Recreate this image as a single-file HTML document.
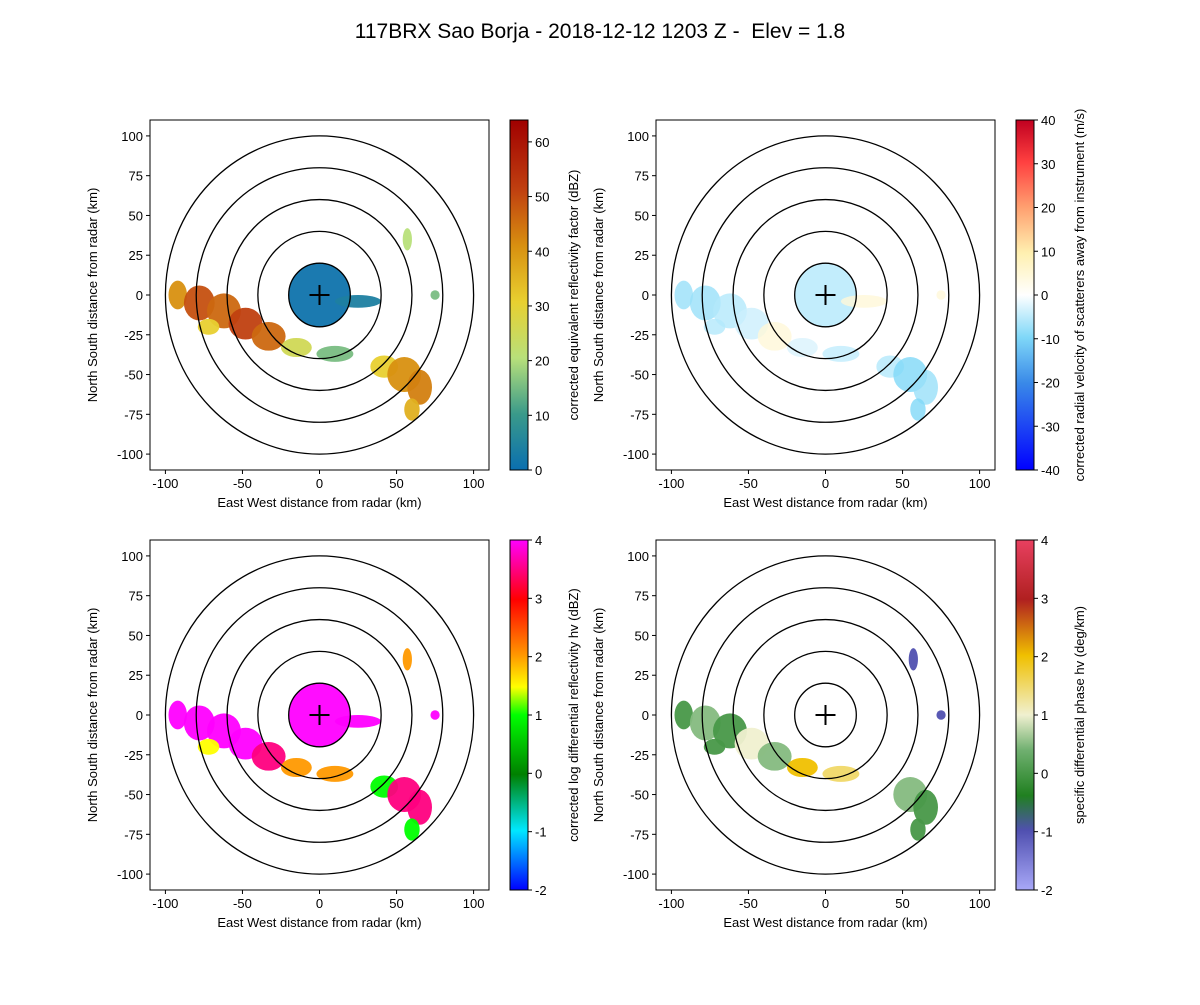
<!DOCTYPE html>
<html><head><meta charset="utf-8"><style>
body{margin:0;background:#fff;font-family:"Liberation Sans",sans-serif}
svg text{font-family:"Liberation Sans",sans-serif;fill:#000;white-space:pre}
</style></head><body>
<svg id="fig" width="1200" height="1000" xmlns="http://www.w3.org/2000/svg">
<defs>
<linearGradient id="gRef" x1="0" y1="1" x2="0" y2="0"><stop offset="0" stop-color="#0a6fb0"/><stop offset="0.16" stop-color="#3a9a8a"/><stop offset="0.32" stop-color="#b8e07a"/><stop offset="0.48" stop-color="#e8d030"/><stop offset="0.64" stop-color="#d89010"/><stop offset="0.8" stop-color="#c04010"/><stop offset="1" stop-color="#a00000"/></linearGradient>
<linearGradient id="gVel" x1="0" y1="1" x2="0" y2="0"><stop offset="0" stop-color="#0000ff"/><stop offset="0.25" stop-color="#3a8ae8"/><stop offset="0.38" stop-color="#80d8f8"/><stop offset="0.5" stop-color="#ffffff"/><stop offset="0.62" stop-color="#fff0b0"/><stop offset="0.75" stop-color="#ffa070"/><stop offset="0.88" stop-color="#ff4040"/><stop offset="1" stop-color="#c00020"/></linearGradient>
<linearGradient id="gZdr" x1="0" y1="1" x2="0" y2="0"><stop offset="0" stop-color="#0000ff"/><stop offset="0.17" stop-color="#00e8ff"/><stop offset="0.33" stop-color="#008000"/><stop offset="0.5" stop-color="#00ff00"/><stop offset="0.58" stop-color="#ffff00"/><stop offset="0.67" stop-color="#ff9900"/><stop offset="0.83" stop-color="#ff0000"/><stop offset="1" stop-color="#ff00ff"/></linearGradient>
<linearGradient id="gKdp" x1="0" y1="1" x2="0" y2="0"><stop offset="0" stop-color="#a8a8f8"/><stop offset="0.17" stop-color="#5050b0"/><stop offset="0.27" stop-color="#208020"/><stop offset="0.4" stop-color="#70b070"/><stop offset="0.5" stop-color="#f0f0d0"/><stop offset="0.67" stop-color="#f0c000"/><stop offset="0.83" stop-color="#b02020"/><stop offset="1" stop-color="#e84060"/></linearGradient>
</defs>
<text x="600" y="38" font-size="21" text-anchor="middle">117BRX Sao Borja - 2018-12-12 1203 Z -  Elev = 1.8</text>
</svg>
<script>
// echo blobs (km)
const blobX=[0,25,-92,-78,-62,-48,-33,-15,10,42,55,65,60,57,75,-72];
const blobY=[0,-4,0,-5,-10,-18,-26,-33,-37,-45,-50,-58,-72,35,0,-20];
const blobRX=[20,15,6,10,11,11,11,10,12,9,11,8,5,3,3,7];
const blobRY=[20,4,9,11,11,10,9,6,5,7,11,11,7,7,3,5];
const refVals=[1,4,40,48,45,50,45,25,15,30,40,42,35,20,15,30];
const velVals=[-6,5,-8,-8,-6,-4,5,-3,-5,-6,-10,-8,-10,0,5,-6];
const zdrVals=[4,4,4,4,4,4,3.5,2,2,1,3.5,3.5,1,2,4,1.5];
const kdpVals=[null,null,0,0.5,0,1,0.5,2,1.5,null,0.5,0,0,-1,-1,0];
const ticks=[-100,-75,-50,-25,0,25,50,75,100];
const xTicks=[-100,-50,0,50,100];
const rings=[20,40,60,80,100];

const maps={
 ref:[[0,'#0a6fb0'],[10,'#3a9a8a'],[20,'#b8e07a'],[30,'#e8d030'],[40,'#d89010'],[50,'#c04010'],[64,'#a00000']],
 vel:[[-40,'#0000ff'],[-20,'#3a8ae8'],[-10,'#80d8f8'],[0,'#ffffff'],[10,'#fff0b0'],[20,'#ffa070'],[30,'#ff4040'],[40,'#c00020']],
 zdr:[[-2,'#0000ff'],[-1,'#00e8ff'],[0,'#008000'],[1,'#00ff00'],[1.5,'#ffff00'],[2,'#ff9900'],[3,'#ff0000'],[4,'#ff00ff']],
 kdp:[[-2,'#a8a8f8'],[-1,'#5050b0'],[-0.4,'#208020'],[0.4,'#70b070'],[1,'#f0f0d0'],[2,'#f0c000'],[3,'#b02020'],[4,'#e84060']]
};
function hex(c){return [1,3,5].map(i=>parseInt(c.substr(i,2),16));}
function cmap(m,v){const s=maps[m];if(v<=s[0][0])return s[0][1];for(let i=1;i<s.length;i++){if(v<=s[i][0]){const t=(v-s[i-1][0])/(s[i][0]-s[i-1][0]);const a=hex(s[i-1][1]),b=hex(s[i][1]);return 'rgb('+a.map((x,k)=>Math.round(x+(b[k]-x)*t)).join(',')+')';}}return s[s.length-1][1];}

const NS='http://www.w3.org/2000/svg';
const fig=document.getElementById('fig');
function el(t,a,p){const e=document.createElementNS(NS,t);for(const k in a)e.setAttribute(k,a[k]);(p||fig).appendChild(e);return e;}

const panels=[
 {x0:150,y0:120,m:'ref',vals:refVals,grad:'gRef',cb:[0,64],cbt:[0,10,20,30,40,50,60],lab:'corrected equivalent reflectivity factor (dBZ)',name:'reflectivity'},
 {x0:656,y0:120,m:'vel',vals:velVals,grad:'gVel',cb:[-40,40],cbt:[-40,-30,-20,-10,0,10,20,30,40],lab:'corrected radial velocity of scatterers away from instrument (m/s)',name:'velocity'},
 {x0:150,y0:540,m:'zdr',vals:zdrVals,grad:'gZdr',cb:[-2,4],cbt:[-2,-1,0,1,2,3,4],lab:'corrected log differential reflectivity hv (dBZ)',name:'zdr'},
 {x0:656,y0:540,m:'kdp',vals:kdpVals,grad:'gKdp',cb:[-2,4],cbt:[-2,-1,0,1,2,3,4],lab:'specific differential phase hv (deg/km)',name:'kdp'}
];
const W=339,H=350;
panels.forEach(p=>{
 const g=el('g',{});
 
 
 const sx=v=>p.x0+(v+110)/220*W, sy=v=>p.y0+(110-v)/220*H;
 const clip='c'+p.name;
 const cp=el('clipPath',{id:clip},g);el('rect',{x:p.x0,y:p.y0,width:W,height:H},cp);
 const dg=el('g',{'clip-path':'url(#'+clip+')'},g);
 blobX.forEach((bx,i)=>{
  const v=p.vals[i]; if(v===null)return;
  const e=el('ellipse',{cx:sx(bx),cy:sy(blobY[i]),rx:blobRX[i]/220*W,ry:blobRY[i]/220*H,fill:cmap(p.m,v),opacity:p.m==='vel'?0.8:0.95},dg);
  
  
 });
 rings.forEach(r=>{el('ellipse',{cx:sx(0),cy:sy(0),rx:r/220*W,ry:r/220*H,fill:'none',stroke:'#000','stroke-width':1.3},dg);});
 el('path',{d:`M${sx(0)-10},${sy(0)}h20M${sx(0)},${sy(0)-10}v20`,stroke:'#000','stroke-width':2},dg);
 const fr=el('rect',{x:p.x0,y:p.y0,width:W,height:H,fill:'none',stroke:'#000','stroke-width':1},g);
 
 
 xTicks.forEach(t=>{el('line',{x1:sx(t),x2:sx(t),y1:p.y0+H,y2:p.y0+H+4,stroke:'#000'},g);const tx=el('text',{x:sx(t),y:p.y0+H+18,'font-size':13,'text-anchor':'middle'},g);tx.textContent=t;});
 ticks.forEach(t=>{el('line',{x1:p.x0-4,x2:p.x0,y1:sy(t),y2:sy(t),stroke:'#000'},g);const tx=el('text',{x:p.x0-7,y:sy(t)+5,'font-size':13,'text-anchor':'end'},g);tx.textContent=t;});
 const xl=el('text',{x:p.x0+W/2,y:p.y0+H+37,'font-size':13,'text-anchor':'middle'},g);xl.textContent='East West distance from radar (km)';
 
 
 const yl=el('text',{x:0,y:0,'font-size':13,'text-anchor':'middle',transform:`translate(${p.x0-53},${p.y0+H/2}) rotate(-90)`},g);yl.textContent='North South distance from radar (km)';
 
 
 const cx=p.x0+360,cw=18;
 const cb=el('rect',{x:cx,y:p.y0,width:cw,height:H,fill:'url(#'+p.grad+')',stroke:'#000','stroke-width':1},g);
 
 
 p.cbt.forEach(t=>{const y=p.y0+H-(t-p.cb[0])/(p.cb[1]-p.cb[0])*H;el('line',{x1:cx+cw,x2:cx+cw+4,y1:y,y2:y,stroke:'#000'},g);const tx=el('text',{x:cx+cw+7,y:y+5,'font-size':13},g);tx.textContent=t;});
 const cl=el('text',{x:0,y:0,'font-size':13,'text-anchor':'middle',transform:`translate(${cx+cw+50},${p.y0+H/2}) rotate(-90)`},g);cl.textContent=p.lab;
 
 
});
</script>
</body></html>
